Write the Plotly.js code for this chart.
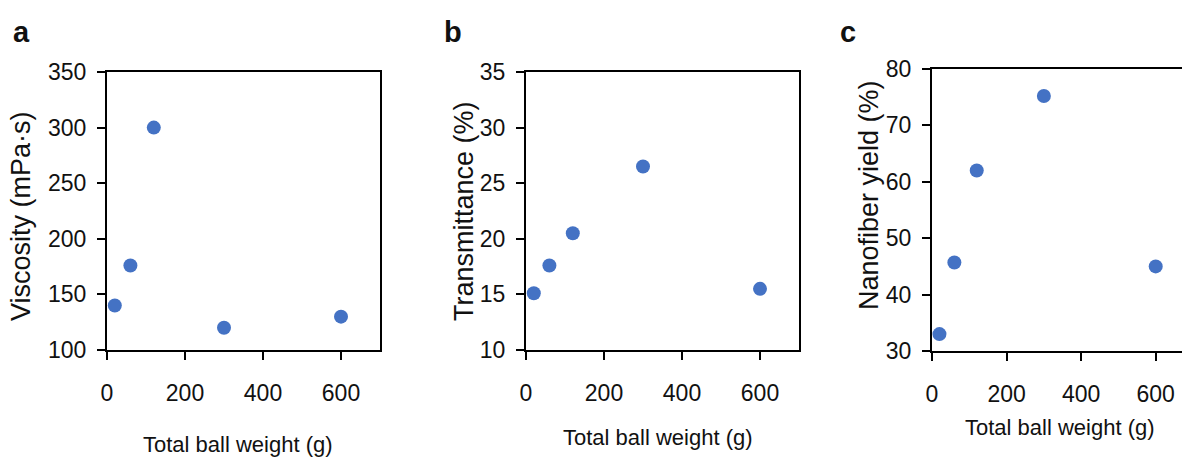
<!DOCTYPE html>
<html>
<head>
<meta charset="utf-8">
<script src="https://cdn.plot.ly/plotly-3.0.1.min.js"></script>
<style>
html,body{margin:0;padding:0;background:#fff;overflow:hidden;}
#wrap{width:1182px;height:459px;overflow:hidden;}
#chart{width:1200px;height:459px;}
</style>
</head>
<body>
<div id="wrap"><div id="chart"></div></div>
<script>
// Data
const ballWeight = [20, 60, 120, 300, 600];
const viscosity = [140, 176, 300, 120, 130];
const transmittance = [15.1, 17.6, 20.5, 26.5, 15.5];
const nanofiberYield = [33, 45.7, 62, 75.2, 45];

const xTitle = 'Total ball weight (g)';
const yTitles = ['Viscosity (mPa·s)', 'Transmittance (%)', 'Nanofiber yield (%)'];
const panelLetters = ['a', 'b', 'c'];

const W = 1200, H = 459;
const px = v => v / W;
const py = v => 1 - v / H;

const FONT = 'Liberation Sans, Arial, sans-serif';
const markerColor = '#4472C4';

function trace(y, xa, ya) {
  return {
    x: ballWeight, y: y, xaxis: xa, yaxis: ya,
    type: 'scatter', mode: 'markers',
    marker: {size: 14, color: markerColor},
    hoverinfo: 'x+y'
  };
}

function axisBase(extra) {
  return Object.assign({
    showline: true, mirror: true, linecolor: '#000', linewidth: 2,
    ticks: 'outside', ticklen: 8, tickwidth: 2, tickcolor: '#000',
    showgrid: false, zeroline: false,
    tickfont: {family: FONT, size: 23, color: '#111'},
    fixedrange: true
  }, extra);
}

const panels = [
  {x0: 107, x1: 380, y0: 72, y1: 350, yr: [100, 350], dt: 50},
  {x0: 526, x1: 799, y0: 72, y1: 350, yr: [10, 35], dt: 5},
  {x0: 932, x1: 1193, y0: 69, y1: 351, yr: [30, 80], dt: 10}
];

const layout = {
  width: W, height: H,
  margin: {l: 0, r: 0, t: 0, b: 0},
  paper_bgcolor: '#fff', plot_bgcolor: '#fff',
  showlegend: false,
  font: {family: FONT, color: '#111'},
  annotations: []
};

const ids = ['', '2', '3'];
panels.forEach((p, i) => {
  layout['xaxis' + ids[i]] = axisBase({
    domain: [px(p.x0), px(p.x1)], range: [0, 700], dtick: 200, tick0: 0,
    anchor: 'y' + ids[i], ticklabelstandoff: 13
  });
  layout['yaxis' + ids[i]] = axisBase({
    domain: [py(p.y1), py(p.y0)], range: p.yr, dtick: p.dt, tick0: p.yr[0],
    anchor: 'x' + ids[i], ticklabelstandoff: 6
  });
});

const yTitlePos = [[21, 216], [464, 211], [869, 195]];
const xTitlePos = [[238, 444], [658, 437], [1060, 427]];
const letterPos = [[11, 32], [442, 32], [838, 32]];

for (let i = 0; i < 3; i++) {
  layout.annotations.push({
    xref: 'paper', yref: 'paper', x: px(yTitlePos[i][0]), y: py(yTitlePos[i][1]),
    xanchor: 'center', yanchor: 'middle', textangle: -90, showarrow: false,
    text: yTitles[i], font: {family: FONT, size: 27, color: '#111'}
  });
  layout.annotations.push({
    xref: 'paper', yref: 'paper', x: px(xTitlePos[i][0]), y: py(xTitlePos[i][1]),
    xanchor: 'center', yanchor: 'middle', showarrow: false,
    text: xTitle, font: {family: FONT, size: 22, color: '#111'}
  });
  layout.annotations.push({
    xref: 'paper', yref: 'paper', x: px(letterPos[i][0]), y: py(letterPos[i][1]),
    xanchor: 'left', yanchor: 'middle', showarrow: false,
    text: '<b>' + panelLetters[i] + '</b>', font: {family: FONT, size: 29, color: '#111'}
  });
}

const data = [
  trace(viscosity, 'x', 'y'),
  trace(transmittance, 'x2', 'y2'),
  trace(nanofiberYield, 'x3', 'y3')
];

Plotly.newPlot('chart', data, layout, {displayModeBar: false, staticPlot: true});
</script>
</body>
</html>
